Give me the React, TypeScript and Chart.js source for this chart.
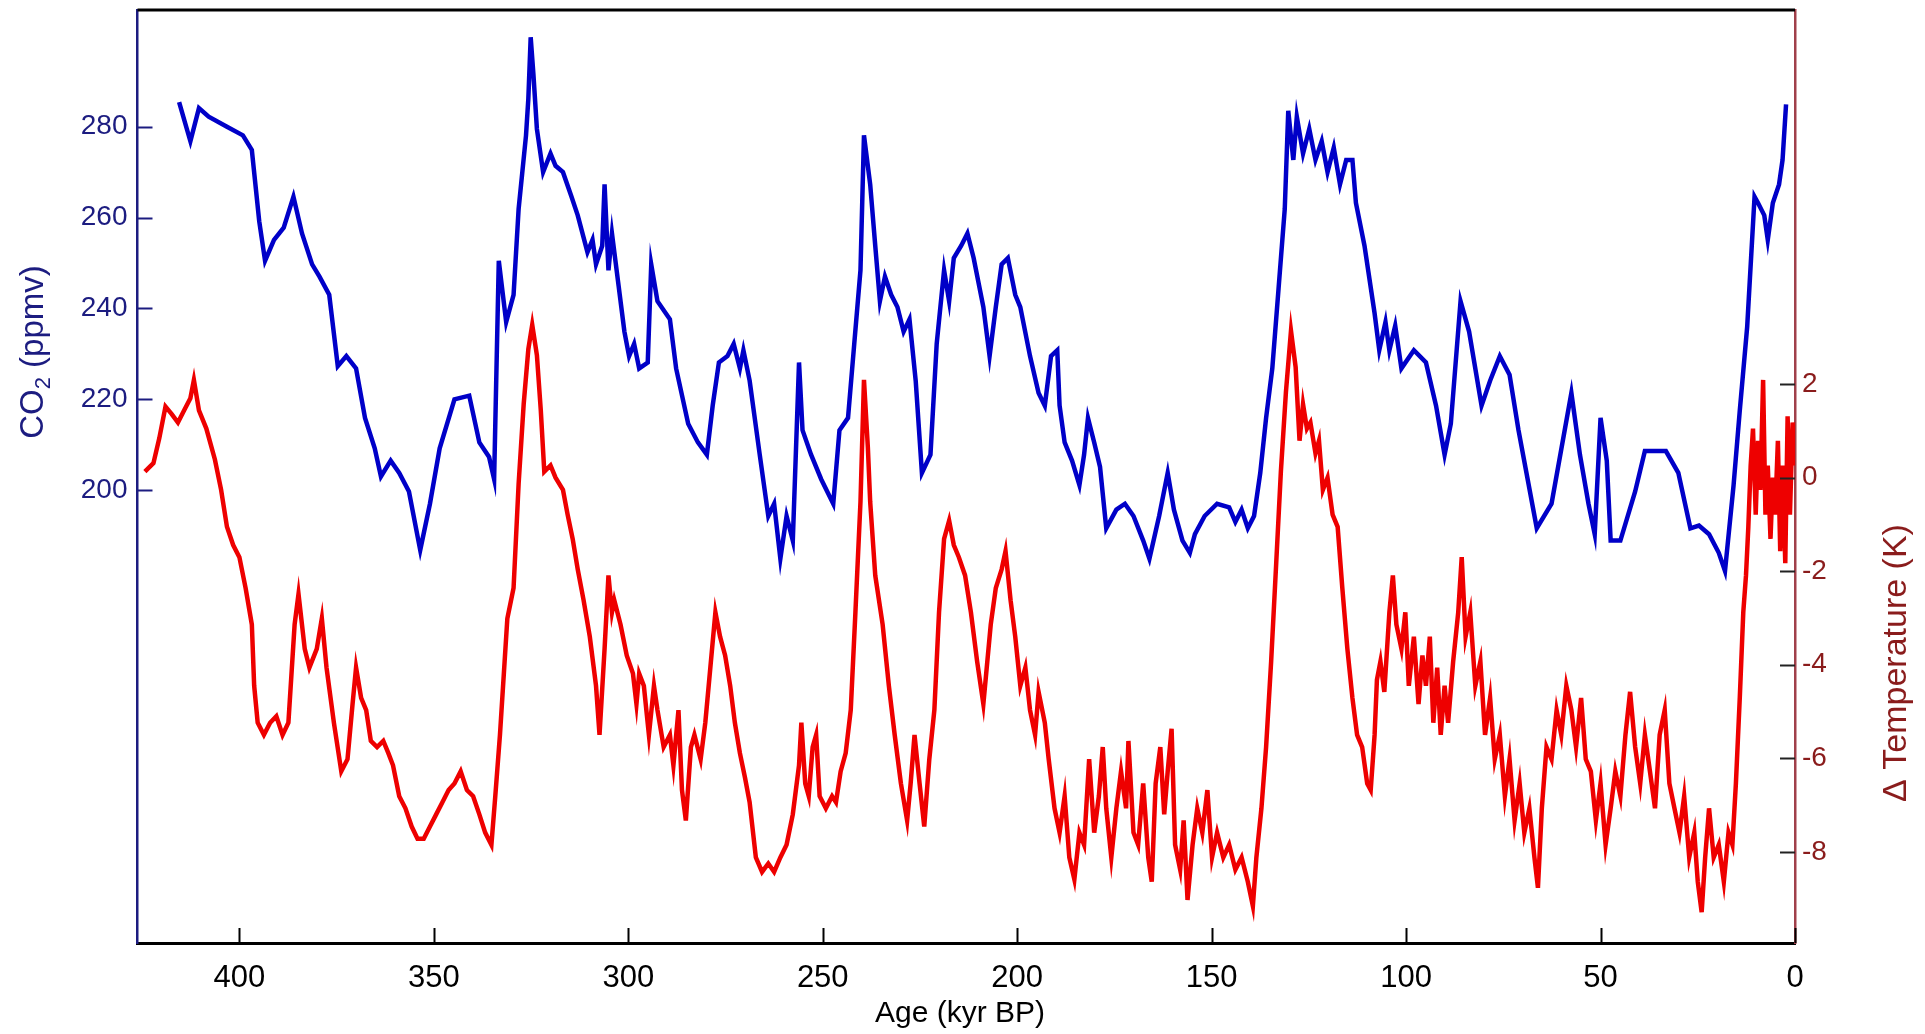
import React, { useEffect, useRef } from "react";
import { Chart, registerables } from "chart.js";

Chart.register(...registerables);

// ---- Data ----
const co2Age = [
  415.5, 412.6, 410.4, 407.9, 403.2, 399.1, 396.8, 394.9, 393.4, 391.1, 388.6, 386.1, 383.9, 381.3, 379.4, 376.9,
  374.7, 372.5, 370.0, 367.7, 365.2, 363.6, 361.1, 358.9, 356.4, 353.5, 351.0, 348.5, 344.7, 340.9, 338.3, 335.8,
  334.5, 333.3, 331.4, 329.5, 328.2, 326.3, 325.7, 325.1, 324.4, 323.5, 321.9, 320.0, 318.7, 316.8, 314.6, 313.0,
  310.5, 309.2, 308.3, 306.7, 306.1, 305.1, 304.2, 302.6, 301.0, 299.8, 298.5, 297.2, 295.0, 294.1, 292.5, 289.3,
  287.7, 284.6, 282.1, 279.8, 278.3, 276.7, 274.5, 272.9, 271.3, 270.4, 268.8, 266.2, 264.0, 262.5, 260.9, 259.3,
  257.7, 256.1, 255.2, 253.0, 250.4, 247.3, 245.7, 243.5, 241.9, 240.3, 239.4, 237.8, 236.5, 235.3, 234.0, 232.4,
  230.8, 229.2, 227.7, 226.1, 224.5, 222.3, 220.7, 218.8, 217.5, 216.3, 214.4, 212.8, 211.2, 208.7, 207.1, 205.5,
  204.0, 202.4, 200.5, 199.2, 196.7, 194.5, 192.9, 191.3, 189.7, 189.1, 187.8, 185.9, 184.0, 182.8, 181.8, 180.2,
  178.7, 177.1, 174.5, 172.3, 170.1, 167.6, 166.0, 163.5, 161.3, 159.7, 157.5, 155.6, 154.3, 151.8, 148.6, 145.5,
  143.9, 142.3, 140.7, 139.1, 137.5, 136.0, 134.4, 132.8, 131.2, 130.3, 129.0, 128.1, 126.5, 124.9, 123.3, 121.7,
  120.2, 118.6, 117.0, 115.4, 113.8, 112.9, 110.7, 108.1, 106.9, 105.3, 104.3, 102.8, 101.2, 98.0, 94.9, 92.3,
  90.1, 88.5, 86.0, 83.8, 80.6, 78.4, 75.9, 73.4, 71.1, 66.4, 62.6, 57.5, 55.3, 53.1, 51.5, 50.0,
  48.4, 47.4, 44.9, 41.1, 38.6, 36.4, 33.2, 30.0, 26.9, 24.7, 22.1, 19.6, 18.0, 15.8, 14.2, 12.3,
  10.4, 9.5, 7.9, 7.0, 5.7, 4.1, 3.2, 2.3,
];
const co2Ppmv = [
  285.4, 276.8, 284.1, 282.2, 280.0, 278.1, 274.9, 259.2, 250.5, 255.1, 257.8, 264.6, 256.5, 249.7, 247.0, 243.0,
  227.3, 229.5, 226.8, 215.9, 209.2, 203.0, 206.5, 203.8, 199.7, 186.8, 197.0, 209.2, 220.0, 220.8, 210.5, 207.3,
  202.4, 250.5, 237.0, 243.0, 261.9, 278.1, 286.2, 299.7, 291.6, 279.5, 270.0, 274.1, 271.4, 270.0, 264.6, 260.5,
  252.4, 255.1, 249.7, 253.8, 267.3, 248.4, 256.5, 245.7, 234.9, 229.5, 232.2, 226.8, 228.1, 249.7, 241.6, 237.6,
  226.8, 214.6, 210.5, 207.8, 218.6, 228.1, 229.5, 232.2, 226.8, 230.8, 224.1, 207.8, 194.3, 197.0, 184.9, 194.3,
  188.9, 228.1, 213.2, 207.8, 202.4, 197.0, 213.2, 215.9, 232.2, 248.4, 278.1, 267.3, 253.8, 241.6, 247.0, 243.0,
  240.3, 234.9, 237.6, 224.1, 203.8, 207.8, 232.2, 248.4, 241.6, 251.1, 253.8, 256.5, 251.1, 240.3, 229.5, 240.3,
  249.7, 251.1, 243.0, 240.3, 229.5, 221.4, 218.6, 229.5, 230.8, 218.6, 210.5, 206.5, 201.1, 207.8, 215.9, 210.5,
  205.1, 191.6, 195.7, 197.0, 194.3, 188.9, 184.9, 194.3, 203.8, 195.7, 188.9, 186.2, 190.3, 194.3, 197.0, 196.2,
  193.0, 195.7, 191.6, 194.3, 203.8, 215.9, 226.8, 244.3, 261.9, 283.5, 272.7, 282.2, 274.1, 279.5, 272.7, 276.8,
  270.0, 275.4, 267.3, 272.7, 272.7, 263.2, 253.8, 238.9, 230.8, 237.0, 230.8, 236.2, 226.8, 230.8, 228.1, 218.6,
  207.8, 214.6, 241.6, 234.9, 218.6, 224.1, 229.5, 225.4, 213.2, 191.6, 197.0, 221.4, 207.8, 197.0, 190.3, 215.9,
  206.5, 188.9, 188.9, 199.7, 208.6, 208.6, 208.6, 203.8, 191.6, 192.2, 190.3, 186.2, 182.2, 201.0, 217.5, 235.9,
  264.6, 263.2, 260.5, 255.1, 263.2, 267.3, 272.7, 284.9,
];

const tempAge = [
  424.3, 422.1, 420.6, 419.0, 417.4, 415.8, 414.2, 412.6, 411.7, 410.4, 408.5, 406.3, 404.7, 403.2, 401.6, 400.0,
  398.4, 396.8, 396.2, 395.3, 393.7, 392.1, 390.5, 388.9, 387.4, 385.8, 384.8, 383.2, 382.0, 380.1, 378.8, 377.6,
  375.7, 373.8, 372.2, 370.9, 370.0, 368.7, 367.4, 366.2, 364.6, 363.0, 361.7, 360.5, 358.9, 357.3, 355.7, 354.2,
  352.6, 351.0, 349.4, 347.8, 346.2, 344.7, 343.1, 341.5, 339.9, 338.3, 336.8, 335.2, 334.2, 333.0, 332.0, 331.1,
  329.5, 328.2, 326.9, 325.7, 324.7, 323.5, 322.5, 321.6, 320.0, 318.7, 316.8, 315.6, 314.3, 313.0, 311.5, 309.9,
  308.3, 307.4, 306.1, 305.1, 304.2, 303.6, 302.0, 300.4, 298.8, 297.9, 297.2, 296.0, 294.7, 293.4, 292.5, 290.9,
  289.3, 288.4, 287.1, 286.2, 285.2, 283.9, 283.0, 281.4, 280.2, 278.9, 277.6, 276.4, 275.1, 273.8, 272.6, 271.3,
  270.0, 268.8, 267.2, 265.6, 264.0, 262.5, 260.9, 259.3, 257.7, 256.1, 255.5, 254.5, 253.6, 252.6, 251.7, 250.8,
  249.2, 247.6, 246.6, 245.4, 244.1, 242.8, 241.6, 240.3, 239.4, 238.4, 237.8, 236.5, 234.6, 233.0, 231.5, 229.9,
  228.3, 227.4, 226.4, 225.1, 223.9, 222.6, 221.3, 220.1, 218.8, 217.5, 216.3, 215.0, 213.4, 211.9, 210.3, 208.7,
  206.8, 205.5, 204.0, 203.0, 201.7, 200.5, 199.2, 197.9, 196.7, 195.4, 194.5, 192.9, 191.9, 190.4, 189.1, 187.8,
  186.6, 185.3, 184.0, 182.8, 181.5, 180.2, 179.0, 178.0, 177.1, 175.8, 174.5, 173.3, 172.0, 171.4, 170.1, 168.9,
  167.6, 166.3, 165.4, 164.4, 163.2, 162.2, 161.3, 160.3, 159.4, 158.1, 157.2, 156.2, 154.9, 153.7, 152.4, 151.1,
  149.9, 148.6, 147.0, 145.5, 143.9, 142.3, 140.7, 139.4, 138.5, 137.2, 136.0, 134.7, 133.4, 132.2, 130.9, 129.6,
  128.4, 127.4, 126.5, 125.5, 124.6, 123.3, 122.4, 121.4, 120.2, 118.9, 117.6, 116.4, 115.1, 113.8, 112.6, 111.3,
  110.0, 109.1, 108.1, 107.5, 106.6, 105.6, 104.3, 103.4, 102.5, 101.2, 100.2, 99.3, 98.0, 96.8, 95.8, 94.9,
  93.9, 93.0, 92.0, 91.1, 90.1, 89.2, 87.9, 86.6, 85.7, 84.7, 83.5, 82.2, 80.9, 79.7, 78.4, 77.2,
  75.9, 74.6, 73.4, 72.1, 70.8, 69.6, 68.3, 67.0, 66.1, 65.1, 63.9, 62.6, 61.3, 60.1, 58.8, 57.5,
  56.3, 55.0, 53.8, 52.5, 51.2, 50.0, 48.7, 47.4, 46.2, 44.9, 43.6, 42.4, 41.1, 39.8, 38.6, 37.3,
  36.0, 34.8, 33.5, 32.3, 31.0, 29.7, 28.5, 27.2, 25.9, 25.0, 24.0, 23.1, 22.1, 20.9, 19.6, 18.3,
  17.1, 16.1, 15.2, 14.2, 13.3, 12.6, 12.0, 11.4, 10.8, 10.1, 9.5, 8.9, 8.2, 7.6, 7.0, 6.3,
  5.7, 5.1, 4.4, 3.8, 3.2, 2.5, 1.9, 1.3, 0.6, 0.0,
];
const tempDelta = [
  0.13, 0.31, 0.84, 1.52, 1.36, 1.18, 1.44, 1.70, 2.09, 1.44, 1.05, 0.39, -0.26, -1.05, -1.44, -1.70,
  -2.36, -3.14, -4.45, -5.24, -5.50, -5.24, -5.10, -5.50, -5.24, -3.14, -2.49, -3.66, -4.06, -3.66, -3.01, -4.06,
  -5.24, -6.28, -6.02, -4.84, -4.06, -4.71, -4.97, -5.63, -5.76, -5.63, -5.89, -6.15, -6.81, -7.07, -7.46, -7.72,
  -7.72, -7.46, -7.20, -6.94, -6.68, -6.54, -6.28, -6.68, -6.81, -7.20, -7.59, -7.85, -6.81, -5.50, -4.19, -3.01,
  -2.36, -0.13, 1.57, 2.75, 3.27, 2.62, 1.44, 0.13, 0.26, 0.00, -0.26, -0.79, -1.31, -1.96, -2.62, -3.40,
  -4.45, -5.50, -3.66, -2.09, -2.88, -2.62, -3.14, -3.80, -4.19, -4.84, -4.19, -4.45, -5.50, -4.45, -4.97, -5.76,
  -5.50, -6.15, -4.97, -6.68, -7.33, -5.76, -5.50, -6.02, -5.24, -4.06, -2.88, -3.40, -3.80, -4.45, -5.24, -5.89,
  -6.41, -6.94, -8.12, -8.43, -8.25, -8.43, -8.12, -7.85, -7.20, -6.15, -5.24, -6.54, -6.81, -5.76, -5.50, -6.81,
  -7.07, -6.81, -6.94, -6.28, -5.89, -4.97, -2.88, -0.52, 2.09, 0.65, -0.52, -2.09, -3.14, -4.45, -5.50, -6.54,
  -7.33, -6.54, -5.50, -6.54, -7.46, -6.02, -4.97, -2.88, -1.31, -0.92, -1.44, -1.70, -2.09, -2.88, -3.93, -4.84,
  -3.14, -2.36, -1.96, -1.57, -2.62, -3.40, -4.45, -4.06, -4.97, -5.50, -4.58, -5.24, -6.02, -7.07, -7.59, -6.81,
  -8.12, -8.59, -7.59, -7.85, -6.02, -7.59, -6.81, -5.76, -7.07, -8.12, -7.07, -6.28, -7.07, -5.63, -7.59, -7.85,
  -6.54, -8.12, -8.64, -6.54, -5.76, -7.20, -6.28, -5.37, -7.85, -8.38, -7.33, -9.03, -7.85, -7.07, -7.59, -6.68,
  -8.12, -7.59, -8.12, -7.85, -8.38, -8.12, -8.64, -9.16, -8.12, -7.07, -5.76, -3.93, -1.83, 0.13, 1.83, 3.14,
  2.36, 0.79, 1.57, 1.05, 1.18, 0.52, 0.79, -0.26, 0.00, -0.79, -1.05, -2.36, -3.66, -4.71, -5.50, -5.76,
  -6.54, -6.68, -5.50, -4.32, -3.93, -4.58, -2.88, -2.09, -3.14, -3.66, -2.88, -4.45, -3.40, -4.84, -3.80, -4.45,
  -3.40, -5.24, -4.06, -5.50, -4.45, -5.24, -3.93, -2.88, -1.70, -3.40, -2.88, -4.45, -3.93, -5.50, -4.71, -6.02,
  -5.50, -6.81, -6.02, -7.33, -6.54, -7.59, -7.07, -8.12, -8.77, -7.07, -5.76, -6.02, -4.97, -5.50, -4.45, -4.97,
  -5.76, -4.71, -6.02, -6.28, -7.33, -6.54, -7.85, -7.07, -6.28, -6.81, -5.50, -4.58, -5.76, -6.54, -5.50, -6.28,
  -7.07, -5.50, -4.97, -6.54, -7.07, -7.59, -6.81, -8.12, -7.59, -8.64, -9.29, -8.12, -7.07, -8.12, -7.85, -8.64,
  -7.59, -7.85, -6.54, -4.71, -2.88, -2.09, -1.05, 0.26, 1.05, -0.79, 0.79, -0.26, 2.09, -0.79, 0.26, -1.31,
  0.00, -0.79, 0.79, -1.57, 0.26, -1.83, 1.31, -0.79, 1.18, 0.26,
];

const ageTicks = [0, 50, 100, 150, 200, 250, 300, 350, 400];
const co2Ticks = [200, 220, 240, 260, 280];
const tempTicks = [-8, -6, -4, -2, 0, 2];

const xTitle = "Age (kyr BP)";
const co2TitleMain = "CO";
const co2TitleSub = "2";
const co2TitleRest = " (ppmv)";
const tempTitle = "\u0394 Temperature (K)";

const FONT = "'Liberation Sans', Arial, Helvetica, sans-serif";
const NAVY = "#1c1c80";
const DARKRED = "#8a1c1c";

const W = 1925;
const H = 1034;
const PLOT_LEFT = 137.5;
const PLOT_RIGHT = 1795;
const PLOT_TOP = 10;
const PLOT_BOTTOM = 943;
const TICK_LEN = 15;

const decorPlugin = {
  id: "decor",
  afterDraw(chart: any) {
    const { ctx, chartArea: a, scales } = chart;
    ctx.save();
    // top frame line
    ctx.strokeStyle = "#000";
    ctx.lineWidth = 3;
    ctx.beginPath();
    ctx.moveTo(a.left, a.top);
    ctx.lineTo(a.right, a.top);
    ctx.stroke();

    // inward tick marks
    ctx.lineWidth = 2;
    ctx.strokeStyle = "#000";
    for (const v of ageTicks) {
      const px = Math.round(scales.x.getPixelForValue(v)) + 0.5;
      ctx.beginPath();
      ctx.moveTo(px, a.bottom);
      ctx.lineTo(px, a.bottom - TICK_LEN);
      ctx.stroke();
    }
    ctx.strokeStyle = NAVY;
    for (const v of co2Ticks) {
      const py = Math.round(scales.y.getPixelForValue(v)) + 0.5;
      ctx.beginPath();
      ctx.moveTo(a.left, py);
      ctx.lineTo(a.left + TICK_LEN, py);
      ctx.stroke();
    }
    ctx.strokeStyle = "#222";
    for (const v of tempTicks) {
      const py = Math.round(scales.y2.getPixelForValue(v)) + 0.5;
      ctx.beginPath();
      ctx.moveTo(a.right, py);
      ctx.lineTo(a.right - TICK_LEN, py);
      ctx.stroke();
    }

    // x title
    ctx.fillStyle = "#000";
    ctx.font = `30px ${FONT}`;
    ctx.textAlign = "center";
    ctx.textBaseline = "middle";
    ctx.fillText(xTitle, 960, 1014);

    // left title (rotated, bottom-to-top) with subscript
    ctx.save();
    ctx.translate(34, 352);
    ctx.rotate(-Math.PI / 2);
    ctx.fillStyle = NAVY;
    ctx.textAlign = "left";
    ctx.textBaseline = "middle";
    const mainFont = `33px ${FONT}`;
    const subFont = `22px ${FONT}`;
    ctx.font = mainFont;
    const w1 = ctx.measureText(co2TitleMain).width;
    const w3 = ctx.measureText(co2TitleRest).width;
    ctx.font = subFont;
    const w2 = ctx.measureText(co2TitleSub).width;
    let x0 = -(w1 + w2 + w3) / 2;
    ctx.font = mainFont;
    ctx.fillText(co2TitleMain, x0, 0);
    x0 += w1;
    ctx.font = subFont;
    ctx.fillText(co2TitleSub, x0, 10);
    x0 += w2;
    ctx.font = mainFont;
    ctx.fillText(co2TitleRest, x0, 0);
    ctx.restore();

    // right title (rotated, bottom-to-top)
    ctx.save();
    ctx.translate(1897, 663);
    ctx.rotate(-Math.PI / 2);
    ctx.fillStyle = DARKRED;
    ctx.font = `34px ${FONT}`;
    ctx.textAlign = "center";
    ctx.textBaseline = "middle";
    ctx.fillText(tempTitle, 0, 0);
    ctx.restore();

    ctx.restore();
  },
};

export default function App() {
  const canvasRef = useRef<HTMLCanvasElement | null>(null);

  useEffect(() => {
    if (!canvasRef.current) return;
    const co2Data = co2Age.map((a, i) => ({ x: a, y: co2Ppmv[i] }));
    const tempData = tempAge.map((a, i) => ({ x: a, y: tempDelta[i] }));

    const chart = new Chart(canvasRef.current, {
      type: "line",
      data: {
        datasets: [
          {
            label: "CO2",
            data: co2Data,
            yAxisID: "y",
            borderColor: "#0000c8",
            borderWidth: 4.5,
            pointRadius: 0,
            tension: 0,
            fill: false,
            borderJoinStyle: "miter",
          },
          {
            label: "Temperature",
            data: tempData,
            yAxisID: "y2",
            borderColor: "#ee0000",
            borderWidth: 4.5,
            pointRadius: 0,
            tension: 0,
            fill: false,
            borderJoinStyle: "miter",
          },
        ],
      },
      options: {
        animation: false,
        responsive: true,
        maintainAspectRatio: false,
        parsing: false as any,
        normalized: true,
        layout: { padding: { top: PLOT_TOP, left: 0, right: 0, bottom: 0 } },
        plugins: {
          legend: { display: false },
          tooltip: { enabled: false },
          title: { display: false },
        },
        scales: {
          x: {
            type: "linear",
            position: "bottom",
            reverse: true,
            min: 0,
            max: 426.2,
            afterBuildTicks: (scale: any) => {
              scale.ticks = ageTicks.map((v) => ({ value: v }));
            },
            afterFit: (scale: any) => {
              scale.height = H - PLOT_BOTTOM;
              scale.paddingLeft = 0;
              scale.paddingRight = 0;
              scale.paddingTop = 0;
              scale.paddingBottom = 0;
            },
            grid: { display: false, drawOnChartArea: false, drawTicks: false },
            border: { display: true, color: "#000", width: 3 },
            ticks: {
              color: "#000",
              padding: 17,
              maxRotation: 0,
              autoSkip: false,
              font: { family: FONT, size: 31 },
            },
          },
          y: {
            type: "linear",
            position: "left",
            min: 100.3,
            max: 305.7,
            afterBuildTicks: (scale: any) => {
              scale.ticks = co2Ticks.map((v) => ({ value: v }));
            },
            afterFit: (scale: any) => {
              scale.width = PLOT_LEFT;
              scale.paddingTop = 0;
              scale.paddingBottom = 0;
              scale.paddingLeft = 0;
              scale.paddingRight = 0;
            },
            grid: { display: false, drawOnChartArea: false, drawTicks: false },
            border: { display: true, color: NAVY, width: 2.5 },
            ticks: {
              color: NAVY,
              padding: 10,
              autoSkip: false,
              font: { family: FONT, size: 28 },
            },
          },
          y2: {
            type: "linear",
            position: "right",
            min: -9.95,
            max: 10.0,
            afterBuildTicks: (scale: any) => {
              scale.ticks = tempTicks.map((v) => ({ value: v }));
            },
            afterFit: (scale: any) => {
              scale.width = W - PLOT_RIGHT;
              scale.paddingTop = 0;
              scale.paddingBottom = 0;
              scale.paddingLeft = 0;
              scale.paddingRight = 0;
            },
            grid: { display: false, drawOnChartArea: false, drawTicks: false },
            border: { display: true, color: "#a0404a", width: 2.5 },
            ticks: {
              color: DARKRED,
              padding: 7,
              autoSkip: false,
              font: { family: FONT, size: 28 },
            },
          },
        },
      },
      plugins: [decorPlugin],
    });

    return () => {
      chart.destroy();
    };
  }, []);

  return (
    <div
      style={{
        position: "absolute",
        left: 0,
        top: 0,
        width: `${W}px`,
        height: `${H}px`,
        background: "#fff",
      }}
    >
      <canvas ref={canvasRef} />
    </div>
  );
}
